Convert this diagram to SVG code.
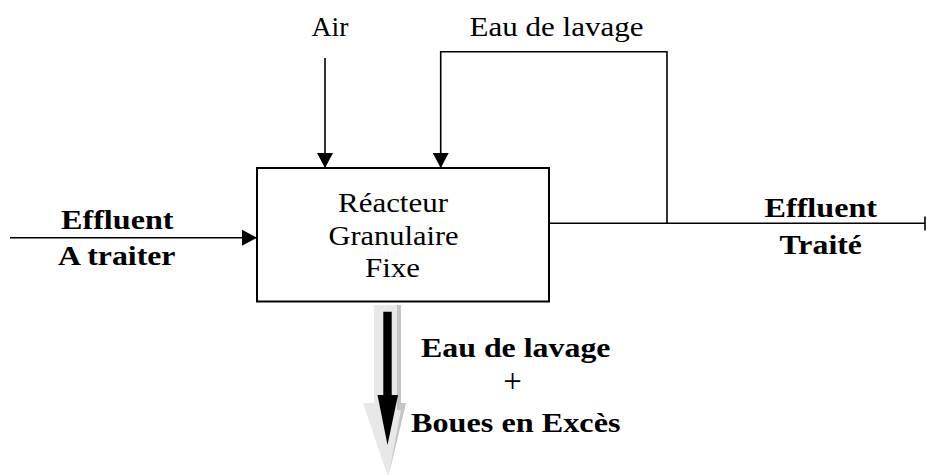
<svg xmlns="http://www.w3.org/2000/svg" width="927" height="475" viewBox="0 0 927 475">
<style>
text{font-family:"Liberation Serif","Times New Roman",serif;font-size:27px;fill:#000}
.b{font-weight:bold}
.ln{stroke:#000;stroke-width:1.6;fill:none}
</style>
<defs>
<marker id="ah" markerWidth="16" markerHeight="16" refX="15" refY="8" orient="auto" markerUnits="userSpaceOnUse">
<path d="M0,0 L15,8 L0,16 Z" fill="#000"/>
</marker>
</defs>
<rect width="927" height="475" fill="#fff"/>
<g id="reactor">
<rect x="257" y="168" width="292" height="133.5" fill="#fff" stroke="#000" stroke-width="2"/>
<text x="338" y="211.5" textLength="110" lengthAdjust="spacingAndGlyphs">Réacteur</text>
<text x="328.5" y="245" textLength="130" lengthAdjust="spacingAndGlyphs">Granulaire</text>
<text x="365" y="277" textLength="55" lengthAdjust="spacingAndGlyphs">Fixe</text>
</g>
<g id="labels">
<text x="311.5" y="36" textLength="37" lengthAdjust="spacingAndGlyphs">Air</text>
<text x="469.5" y="36" textLength="174" lengthAdjust="spacingAndGlyphs">Eau de lavage</text>
<text x="61" y="229" class="b" textLength="112.5" lengthAdjust="spacingAndGlyphs">Effluent</text>
<text x="58" y="265" class="b" textLength="117.5" lengthAdjust="spacingAndGlyphs">A traiter</text>
<text x="764.5" y="216.5" class="b" textLength="112.5" lengthAdjust="spacingAndGlyphs">Effluent</text>
<text x="779.5" y="253.5" class="b" textLength="82.5" lengthAdjust="spacingAndGlyphs">Traité</text>
<text x="421" y="356.5" class="b" textLength="189.5" lengthAdjust="spacingAndGlyphs">Eau de lavage</text>
<text x="512.5" y="392" text-anchor="middle" style="font-size:33px">+</text>
<text x="411" y="431.5" class="b" textLength="209.5" lengthAdjust="spacingAndGlyphs">Boues en Excès</text>
</g>
<g id="connectors">
<line x1="325" y1="58" x2="325" y2="168" class="ln" marker-end="url(#ah)"/>
<polyline points="667,223.3 667,51.7 440.7,51.7 440.7,168" class="ln" marker-end="url(#ah)"/>
<line x1="10" y1="237.7" x2="257" y2="237.7" class="ln" marker-end="url(#ah)"/>
<line x1="549" y1="223.3" x2="925" y2="223.3" class="ln"/>
<line x1="925" y1="216.5" x2="925" y2="230.5" class="ln"/>
<path d="M374,305 L401,305 L401,403 L406,403 L388,477 L363,403 L374,403 Z" fill="#e8e8e8"/>
<path d="M397,305 L401,305 L401,403 L406,403 L389,474 L401,410 L397,410 Z" fill="#c4c4c4"/>
<path d="M383.3,311.7 L391.7,311.7 L391.7,395 L398,395 L387.5,445 L377.5,395 L383.3,395 Z" fill="#000"/>
</g>
</svg>
